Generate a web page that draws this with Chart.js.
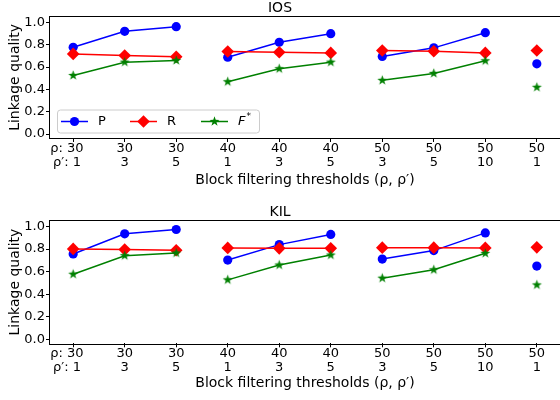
<!DOCTYPE html>
<html><head><meta charset="utf-8">
<script src="https://cdn.jsdelivr.net/npm/chart.js@4"></script>
<style>
html,body{margin:0;padding:0;background:#fff;overflow:hidden;width:560px;height:400px}
.w{position:absolute;left:0;width:570px;height:200px}
canvas{display:block}
</style></head><body>
<div class="w" style="top:0"><canvas id="c1" width="570" height="200" style="width:570px;height:200px"></canvas></div>
<div class="w" style="top:200px"><canvas id="c2" width="570" height="200" style="width:570px;height:200px"></canvas></div>
<script>
// ---- data ----
const rhoLabels = [30, 30, 30, 40, 40, 40, 50, 50, 50, 50];
const rhoPrimeLabels = [1, 3, 5, 1, 3, 5, 3, 5, 10, 1];
const groups = [0, 0, 0, 1, 1, 1, 2, 2, 2, 3];
const seriesNames = ['P', 'R', 'F*'];
const panelTitles = ['IOS', 'KIL'];
const iosP = [0.777, 0.920, 0.962, 0.688, 0.822, 0.899, 0.695, 0.772, 0.908, 0.629];
const iosR = [0.718, 0.703, 0.692, 0.739, 0.733, 0.727, 0.748, 0.742, 0.727, 0.748];
const iosF = [0.525, 0.644, 0.659, 0.469, 0.585, 0.644, 0.481, 0.543, 0.656, 0.419];
const kilP = [0.756, 0.935, 0.973, 0.702, 0.839, 0.929, 0.711, 0.786, 0.943, 0.649];
const kilR = [0.801, 0.795, 0.789, 0.810, 0.806, 0.806, 0.812, 0.812, 0.810, 0.815];
const kilF = [0.577, 0.741, 0.765, 0.527, 0.658, 0.747, 0.542, 0.616, 0.762, 0.482];
const yTicks = [0.0, 0.2, 0.4, 0.6, 0.8, 1.0];
const xLabel = 'Block filtering thresholds (ρ, ρ′)';
const yLabel = 'Linkage quality';

const FONT = 'DejaVu Sans';
const BLUE = '#0000ff', RED = '#ff0000', GREEN = '#008000';

function makeStar(R, color) {
  const s = Math.ceil(2 * R + 2);
  const c = document.createElement('canvas');
  c.width = s; c.height = s;
  const g = c.getContext('2d');
  g.fillStyle = color;
  g.beginPath();
  const cx = s / 2, cy = s / 2, r = R * 0.4;
  for (let k = 0; k < 10; k++) {
    const a = -Math.PI / 2 + k * Math.PI / 5;
    const rr = k % 2 === 0 ? R : r;
    const px = cx + rr * Math.cos(a), py = cy + rr * Math.sin(a);
    if (k === 0) g.moveTo(px, py); else g.lineTo(px, py);
  }
  g.closePath();
  g.fill();
  return c;
}
const starImg = makeStar(5.2, GREEN);

function segColor(color) {
  return ctx => groups[ctx.p0DataIndex] === groups[ctx.p1DataIndex] ? color : 'rgba(0,0,0,0)';
}

function tickLabel(v) {
  const i = Math.round(v);
  if (i < 0 || i >= rhoLabels.length) return '';
  if (i === 0) return ['ρ: ' + rhoLabels[i] + '   ', 'ρ′: ' + rhoPrimeLabels[i] + '   '];
  return [String(rhoLabels[i]), String(rhoPrimeLabels[i])];
}

const framePlugin = {
  id: 'frame',
  afterDatasetsDraw(chart) {
    const {ctx, chartArea: a} = chart;
    ctx.save();
    ctx.strokeStyle = '#000';
    ctx.lineWidth = 1;
    ctx.strokeRect(Math.round(a.left) - 0.5, Math.round(a.top) - 0.5, Math.round(a.right - a.left) + 1, Math.round(a.bottom - a.top) + 1);
    ctx.restore();
  }
};

const legendPlugin = {
  id: 'innerLegend',
  afterDraw(chart) {
    const {ctx, chartArea: a} = chart;
    const x0 = a.left + 7, y0 = a.bottom - 28.5, w = 202, h = 23;
    ctx.save();
    ctx.fillStyle = 'rgba(255,255,255,0.8)';
    ctx.strokeStyle = '#cccccc';
    ctx.lineWidth = 1;
    ctx.beginPath();
    ctx.roundRect(x0 + 0.5, y0 + 0.5, w, h, 3);
    ctx.fill(); ctx.stroke();
    const cy = y0 + h / 2 + 0.5;
    const ds = chart.data.datasets;
    const offs = [4, 73, 144];
    ds.forEach((d, k) => {
      const lx = x0 + offs[k];
      ctx.strokeStyle = d.borderColor;
      ctx.lineWidth = 1.5;
      ctx.beginPath(); ctx.moveTo(lx, cy); ctx.lineTo(lx + 27, cy); ctx.stroke();
      const mx = lx + 13.5;
      ctx.fillStyle = d.borderColor;
      if (k === 0) { ctx.beginPath(); ctx.arc(mx, cy, 4.6, 0, Math.PI * 2); ctx.fill(); }
      else if (k === 1) { const r = 6.3; ctx.beginPath(); ctx.moveTo(mx, cy - r); ctx.lineTo(mx + r, cy); ctx.lineTo(mx, cy + r); ctx.lineTo(mx - r, cy); ctx.closePath(); ctx.fill(); }
      else { ctx.drawImage(starImg, mx - starImg.width / 2, cy - starImg.height / 2); }
      ctx.fillStyle = '#000';
      ctx.textBaseline = 'middle';
      const tx = lx + 37;
      if (d.label === 'F*') {
        ctx.font = 'italic 13px "' + FONT + '"';
        ctx.fillText('F', tx, cy);
        const fw = ctx.measureText('F').width;
        ctx.font = '9px "' + FONT + '"';
        ctx.fillText('*', tx + fw + 1, cy - 5);
      } else {
        ctx.font = '13px "' + FONT + '"';
        ctx.fillText(d.label, tx, cy);
      }
    });
    ctx.restore();
  }
};

function makeChart(id, title, P, R, F, opt) {
  const xIdx = rhoLabels.map((_, i) => i);
  const mk = (vals) => vals.map((v, i) => ({x: i, y: v}));
  const datasets = [
    {label: seriesNames[0], data: mk(P), borderColor: BLUE, backgroundColor: BLUE, pointBackgroundColor: BLUE,
     borderWidth: 1.5, pointStyle: 'circle', pointRadius: 4.6, pointBorderWidth: 0, order: 3,
     segment: {borderColor: segColor(BLUE)}},
    {label: seriesNames[1], data: mk(R), borderColor: RED, backgroundColor: RED, pointBackgroundColor: RED,
     borderWidth: 1.5, pointStyle: 'rectRot', pointRadius: 6.3, pointBorderWidth: 0, order: 2,
     segment: {borderColor: segColor(RED)}},
    {label: seriesNames[2], data: mk(F), borderColor: GREEN, backgroundColor: GREEN, pointBackgroundColor: GREEN,
     borderWidth: 1.5, pointStyle: starImg, pointRadius: 5, pointBorderWidth: 0, order: 1,
     segment: {borderColor: segColor(GREEN)}}
  ];
  return new Chart(document.getElementById(id), {
    type: 'line',
    data: {datasets},
    options: {
      responsive: false, animation: false, devicePixelRatio: 1,
      layout: {padding: {left: 0, right: 10, top: 0, bottom: 0}},
      elements: {line: {tension: 0}},
      plugins: {
        legend: {display: false}, tooltip: {enabled: false},
        title: {display: true, text: title, color: '#000', font: {family: FONT, size: 14, weight: 'normal'},
                padding: {top: opt.titleTop, bottom: 0}}
      },
      scales: {
        x: {
          type: 'linear', min: -0.45, max: 9.45,
          afterBuildTicks: s => { s.ticks = xIdx.map(v => ({value: v})); },
          afterFit: s => { s.height = opt.xh; },
          ticks: {autoSkip: false, maxRotation: 0, minRotation: 0, color: '#000',
                  font: {family: FONT, size: 13, lineHeight: 1.1}, padding: -1, callback: v => tickLabel(v)},
          grid: {display: true, drawOnChartArea: false, drawTicks: true, tickLength: 4, color: '#000'},
          border: {display: false},
          title: {display: true, text: xLabel, color: '#000', font: {family: FONT, size: 14},
                  padding: {top: 0, bottom: opt.xtPad}}
        },
        y: {
          min: -0.035, max: 1.05,
          afterBuildTicks: s => { s.ticks = yTicks.map(v => ({value: v})); },
          afterFit: s => { s.width = 50; },
          ticks: {color: '#000', font: {family: FONT, size: 13}, padding: 1, callback: v => Number(v).toFixed(1)},
          grid: {display: true, drawOnChartArea: false, drawTicks: true, tickLength: 4, color: '#000'},
          border: {display: false},
          title: {display: true, text: yLabel, color: '#000', font: {family: FONT, size: 14},
                  padding: {top: 6.5, bottom: 0}}
        }
      }
    },
    plugins: opt.legend ? [framePlugin, legendPlugin] : [framePlugin]
  });
}

makeChart('c1', panelTitles[0], iosP, iosR, iosF, {titleTop: 0, xh: 62, xtPad: 11.5, legend: true});
makeChart('c2', panelTitles[1], kilP, kilR, kilF, {titleTop: 4, xh: 56.7, xtPad: 8.5, legend: false});
</script></body></html>
